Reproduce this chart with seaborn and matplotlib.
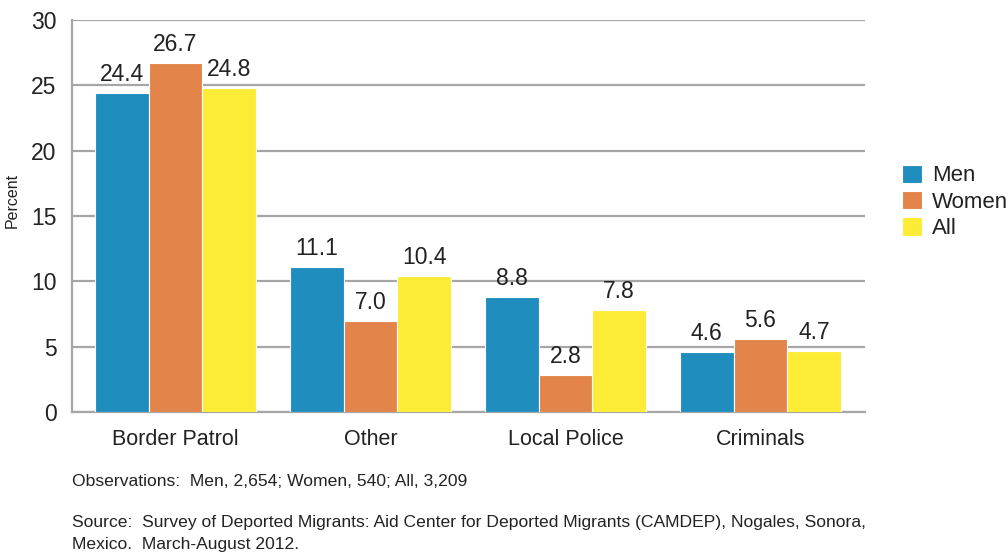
import matplotlib
matplotlib.use("Agg")
import matplotlib.pyplot as plt
import seaborn as sns
import pandas as pd

categories = ["Border Patrol", "Other", "Local Police", "Criminals"]
series = ["Men", "Women", "All"]
men = [24.4, 11.1, 8.8, 4.6]
women = [26.7, 7.0, 2.8, 5.6]
all_ = [24.8, 10.4, 7.8, 4.7]
colors = ["#208dbf", "#e3854a", "#fdec36"]

rows = []
for s, vals in zip(series, [men, women, all_]):
    for c, v in zip(categories, vals):
        rows.append({"cat": c, "series": s, "value": v})
df = pd.DataFrame(rows)

sns.set_theme(style="white")
plt.rcParams['font.family'] = ['Liberation Sans', 'DejaVu Sans']

fig = plt.figure(figsize=(10.08, 5.55), dpi=100)
ax = fig.add_axes([72/1008, 1-412/555, (865-72)/1008, (412-20)/555])

sns.barplot(data=df, x="cat", y="value", hue="series", order=categories,
            hue_order=series, palette=colors, width=0.826, ax=ax,
            edgecolor="white", linewidth=0.8, saturation=1, zorder=3)

ax.set_ylim(0, 30)
ax.set_xlim(-0.53, 3.536)
ax.set_yticks(range(0, 31, 5))
ax.yaxis.grid(True, color="#a6a6a6", linewidth=1.6, zorder=0)
ax.set_axisbelow(True)
for sp in ["top", "right"]:
    ax.spines[sp].set_visible(False)
for sp in ["left", "bottom"]:
    ax.spines[sp].set_color("#a6a6a6")
    ax.spines[sp].set_linewidth(1.6)
ax.tick_params(axis="y", labelsize=16.5, length=0, pad=11, colors="#222222")
ax.tick_params(axis="x", labelsize=15.5, length=0, pad=12, colors="#222222")
ax.set_xlabel("")
ax.set_ylabel("Percent", fontsize=11.5, color="#222222")
ax.yaxis.set_label_coords(-52/793, (412-200)/392)

for cont in ax.containers:
    ax.bar_label(cont, fmt="%.1f", padding=5, fontsize=16.5, color="#222222")

leg = ax.legend(loc="center left", bbox_to_anchor=(1.035, 0.536), frameon=False,
                fontsize=16, handlelength=0.9, handleheight=0.9,
                handletextpad=0.45, labelspacing=0.2, borderaxespad=0)
for t in leg.get_texts():
    t.set_color("#222222")

fs = 12.6
fig.text(72/1008, 1-481/555, "Observations:  Men, 2,654; Women, 540; All, 3,209",
         fontsize=fs, color="#222222", va="center")
fig.text(72/1008, 1-522/555,
         "Source:  Survey of Deported Migrants: Aid Center for Deported Migrants (CAMDEP), Nogales, Sonora,",
         fontsize=fs, color="#222222", va="center")
fig.text(72/1008, 1-545/555, "Mexico.  March-August 2012.",
         fontsize=fs, color="#222222", va="center")

fig.savefig("out.png", dpi=100)
